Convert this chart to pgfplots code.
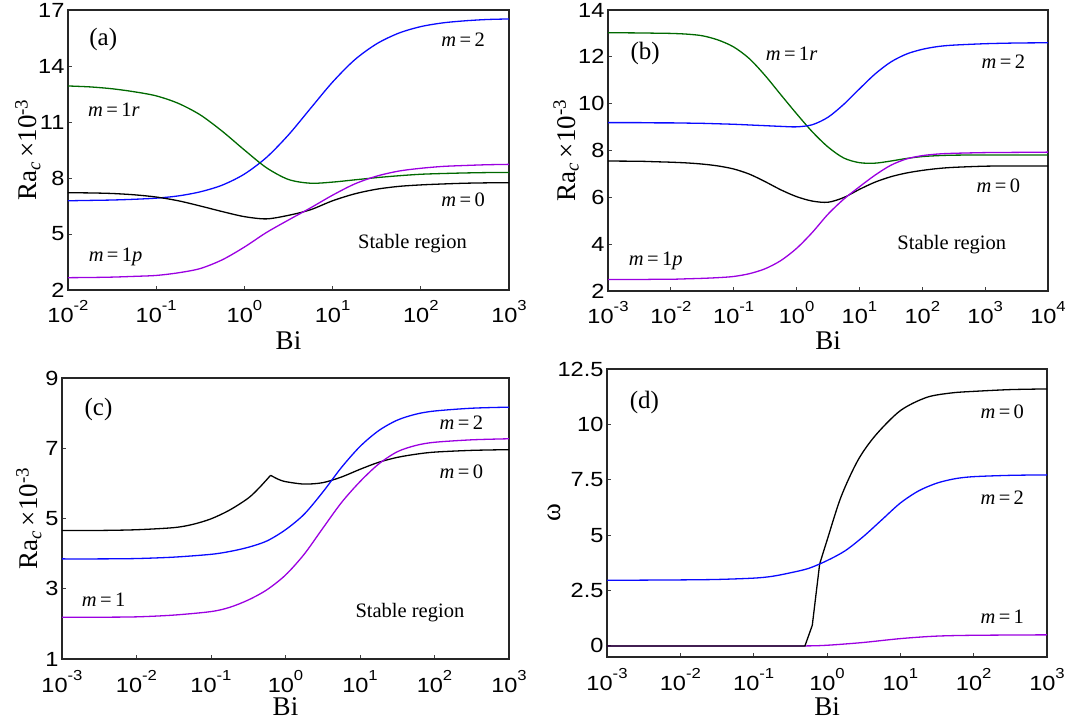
\documentclass[border=0pt]{standalone}
\usepackage{fontspec}
\setmainfont{Liberation Serif}
\newfontfamily\sansnum[FakeStretch=1.15]{Liberation Sans}
\usepackage{pgfplots}
\pgfplotsset{compat=1.18}

\definecolor{cblue}{RGB}{10,10,255}
\definecolor{cgreen}{RGB}{0,105,0}
\definecolor{cpurple}{RGB}{155,0,225}

\newcommand{\ml}[1]{\textit{m}\,=\,#1}
\newcommand{\racl}{Ra\textsubscript{\textit{c}}\,×10\textsuperscript{-3}}
% decade labels: 10 with a raised exponent
\newcommand{\dec}[1]{10\raisebox{12pt}{\fontsize{14.5}{14.5}\selectfont #1}}
\newcommand{\pl}[1]{{\fontsize{25}{25}\selectfont #1}}

% settings shared by all four panels
\pgfplotsset{
  scale only axis,
  axis line style={line width=1.2pt, black!85},
  tick align=inside, xtick pos=bottom, ytick pos=left,
  major tick length=4pt, xminorticks=false, yminorticks=false,
  tick style={line width=0.9pt, black!75},
  tick label style={font=\fontsize{20.5}{20.5}\selectfont\sansnum},
  xticklabel style={anchor=base, yshift=-33pt},
  /pgf/number format/assume math mode=true,
  label style={font=\fontsize{27}{27}\selectfont},
  every axis plot/.append style={line width=1.3pt, no markers, smooth},
}

\begin{document}
\begin{tikzpicture}[every node/.style={font=\fontsize{20.5}{20.5}\selectfont}]
\path[use as bounding box] (0,0) rectangle (1071pt,723pt);

% (a)
\begin{semilogxaxis}[anchor=south west, at={(68pt,433pt)}, width=441pt, height=280pt,
  xmin=1e-2, xmax=1e3, ymin=2, ymax=17,
  ytick={2,5,8,11,14,17},
  xtick={1e-2,1e-1,1,1e1,1e2,1e3},
  xticklabels={\dec{-2},\dec{-1},\dec{0},\dec{1},\dec{2},\dec{3}},
  xlabel={Bi}, ylabel={\racl},
  xlabel style={at={(axis description cs:0.5,-0.179)}, anchor=center},
  ylabel style={at={(axis description cs:-0.091,0.5)}, anchor=center},
]
\addplot[cblue] coordinates {(0.01,6.78) (0.01778,6.80) (0.03162,6.82) (0.05623,6.86) (0.1,6.92) (0.1778,7.04) (0.3162,7.26) (0.5623,7.62) (1,8.21) (1.778,9.10) (3.162,10.31) (5.623,11.73) (10,13.14) (17.78,14.33) (31.62,15.19) (56.23,15.76) (100,16.11) (177.8,16.31) (316.2,16.42) (562.3,16.49) (1000,16.52)};
\addplot[cgreen] coordinates {(0.01,12.93) (0.01778,12.88) (0.03162,12.78) (0.05623,12.62) (0.1,12.40) (0.1778,12.00) (0.3162,11.38) (0.5623,10.50) (1,9.50) (1.778,8.55) (3.162,7.92) (5.623,7.72) (10,7.78) (17.78,7.90) (31.62,8.02) (56.23,8.12) (100,8.20) (177.8,8.24) (316.2,8.27) (562.3,8.29) (1000,8.30)};
\addplot[black] coordinates {(0.01,7.21) (0.01778,7.20) (0.03162,7.17) (0.05623,7.10) (0.1,6.98) (0.1778,6.78) (0.3162,6.50) (0.5623,6.20) (1,5.93) (1.778,5.81) (3.162,6.00) (5.623,6.30) (10,6.78) (17.78,7.15) (31.62,7.40) (56.23,7.55) (100,7.63) (177.8,7.68) (316.2,7.72) (562.3,7.74) (1000,7.75)};
\addplot[cpurple] coordinates {(0.01,2.66) (0.01778,2.67) (0.03162,2.69) (0.05623,2.73) (0.1,2.78) (0.1778,2.92) (0.3162,3.15) (0.5623,3.62) (1,4.30) (1.778,5.08) (3.162,5.75) (5.623,6.40) (10,7.08) (17.78,7.68) (31.62,8.10) (56.23,8.37) (100,8.52) (177.8,8.62) (316.2,8.67) (562.3,8.71) (1000,8.73)};
\node at (axis cs:10^-1.6,15.4) {\pl{(a)}};
\node at (axis cs:10^2.48,15.43) {\ml{2}};
\node at (axis cs:10^-1.48,11.64) {\ml{1\textit{r}}};
\node at (axis cs:10^2.48,6.82) {\ml{0}};
\node at (axis cs:10^1.906,4.5) {Stable region};
\node at (axis cs:10^-1.46,3.79) {\ml{1\textit{p}}};
\end{semilogxaxis}

% (b)
\begin{semilogxaxis}[anchor=south west, at={(608pt,432pt)}, width=440pt, height=281pt,
  xmin=1e-3, xmax=1e4, ymin=2, ymax=14,
  ytick={2,4,6,8,10,12,14},
  xtick={1e-3,1e-2,1e-1,1,1e1,1e2,1e3,1e4},
  xticklabels={\dec{-3},\dec{-2},\dec{-1},\dec{0},\dec{1},\dec{2},\dec{3},\dec{4}},
  xlabel={Bi}, ylabel={\racl},
  xlabel style={at={(axis description cs:0.5,-0.178)}, anchor=center},
  ylabel style={at={(axis description cs:-0.095,0.5)}, anchor=center},
]
\addplot[cgreen] coordinates {(0.001,13.03) (0.003162,13.02) (0.005623,13.01) (0.01,13.00) (0.01778,12.97) (0.03162,12.90) (0.05623,12.72) (0.1,12.42) (0.1778,11.92) (0.3162,11.20) (0.5623,10.38) (1,9.57) (1.778,8.80) (3.162,8.15) (5.623,7.68) (10,7.48) (17.78,7.46) (31.62,7.55) (56.23,7.66) (100,7.74) (177.8,7.78) (316.2,7.80) (1000,7.81) (3162,7.81) (10000,7.81)};
\addplot[cblue] coordinates {(0.001,9.19) (0.003162,9.19) (0.005623,9.18) (0.01,9.18) (0.01778,9.17) (0.03162,9.16) (0.05623,9.14) (0.1,9.12) (0.1778,9.09) (0.3162,9.06) (0.5623,9.03) (1,9.01) (1.778,9.10) (3.162,9.42) (5.623,9.97) (10,10.63) (17.78,11.27) (31.62,11.78) (56.23,12.12) (100,12.32) (177.8,12.44) (316.2,12.50) (1000,12.56) (3162,12.59) (10000,12.60)};
\addplot[black] coordinates {(0.001,7.55) (0.003162,7.54) (0.005623,7.52) (0.01,7.50) (0.01778,7.47) (0.03162,7.42) (0.05623,7.34) (0.1,7.21) (0.1778,6.99) (0.3162,6.67) (0.5623,6.32) (1,6.03) (1.778,5.84) (3.162,5.79) (5.623,5.99) (10,6.34) (17.78,6.65) (31.62,6.88) (56.23,7.04) (100,7.15) (177.8,7.23) (316.2,7.28) (1000,7.33) (3162,7.34) (10000,7.34)};
\addplot[cpurple] coordinates {(0.001,2.49) (0.003162,2.49) (0.005623,2.50) (0.01,2.50) (0.01778,2.52) (0.03162,2.54) (0.05623,2.57) (0.1,2.62) (0.1778,2.74) (0.3162,2.95) (0.5623,3.30) (1,3.82) (1.778,4.50) (3.162,5.28) (5.623,5.92) (10,6.45) (17.78,6.95) (31.62,7.37) (56.23,7.64) (100,7.78) (177.8,7.85) (316.2,7.88) (1000,7.91) (3162,7.92) (10000,7.93)};
\node at (axis cs:10^-2.41,12.14) {\pl{(b)}};
\node at (axis cs:10^-0.08,12.14) {\ml{1\textit{r}}};
\node at (axis cs:10^3.29,11.79) {\ml{2}};
\node at (axis cs:10^3.21,6.5) {\ml{0}};
\node at (axis cs:10^2.47,4.0) {Stable region};
\node at (axis cs:10^-2.24,3.29) {\ml{1\textit{p}}};
\end{semilogxaxis}

% (c)
\begin{semilogxaxis}[anchor=south west, at={(62pt,64pt)}, width=447pt, height=281pt,
  xmin=1e-3, xmax=1e3, ymin=1, ymax=9,
  ytick={1,3,5,7,9},
  xtick={1e-3,1e-2,1e-1,1,1e1,1e2,1e3},
  xticklabels={\dec{-3},\dec{-2},\dec{-1},\dec{0},\dec{1},\dec{2},\dec{3}},
  xlabel={Bi}, ylabel={\racl},
  xlabel style={at={(axis description cs:0.5,-0.17)}, anchor=center},
  ylabel style={at={(axis description cs:-0.074,0.5)}, anchor=center},
]
\addplot[black] coordinates {(0.001,4.66) (0.003162,4.66) (0.01,4.68) (0.03162,4.74) (0.05623,4.83) (0.1,4.99) (0.1778,5.24) (0.3162,5.58) (0.4467,5.88) (0.631,6.23)};
\addplot[black] coordinates {(0.631,6.23) (0.7943,6.12) (1,6.05) (1.778,5.98) (3.162,6.02) (5.623,6.18) (10,6.40) (17.78,6.60) (31.62,6.74) (56.23,6.83) (100,6.89) (316.2,6.94) (1000,6.96)};
\addplot[cblue] coordinates {(0.001,3.85) (0.003162,3.85) (0.01,3.86) (0.03162,3.90) (0.1,3.98) (0.1778,4.06) (0.3162,4.18) (0.5623,4.36) (1,4.68) (1.778,5.12) (3.162,5.75) (5.623,6.45) (10,7.05) (17.78,7.50) (31.62,7.80) (56.23,7.97) (100,8.06) (316.2,8.14) (1000,8.17)};
\addplot[cpurple] coordinates {(0.001,2.19) (0.003162,2.19) (0.01,2.20) (0.03162,2.25) (0.1,2.35) (0.1778,2.47) (0.3162,2.68) (0.5623,2.97) (1,3.39) (1.778,3.98) (3.162,4.72) (5.623,5.45) (10,6.05) (17.78,6.55) (31.62,6.90) (56.23,7.08) (100,7.17) (316.2,7.24) (1000,7.27)};
\node at (axis cs:10^-2.51,8.1) {\pl{(c)}};
\node at (axis cs:10^2.36,7.72) {\ml{2}};
\node at (axis cs:10^2.36,6.34) {\ml{0}};
\node at (axis cs:10^1.67,2.33) {Stable region};
\node at (axis cs:10^-2.44,2.7) {\ml{1}};
\end{semilogxaxis}

% (d)
\begin{semilogxaxis}[anchor=south west, at={(607pt,66pt)}, width=440pt, height=288pt,
  xmin=1e-3, xmax=1e3, ymin=-0.5, ymax=12.5,
  ytick={0,2.5,5,7.5,10,12.5},
  yticklabels={0,2.5,5,7.5,10,12.5},
  xtick={1e-3,1e-2,1e-1,1,1e1,1e2,1e3},
  xticklabels={\dec{-3},\dec{-2},\dec{-1},\dec{0},\dec{1},\dec{2},\dec{3}},
  xlabel={Bi}, ylabel={ω},
  xlabel style={at={(axis description cs:0.5,-0.173)}, anchor=center},
  ylabel style={at={(axis description cs:-0.12,0.5)}, anchor=center},
]
\addplot[cpurple] coordinates {(0.001,0) (0.1,0) (0.5,0) (1,0.03) (3,0.15) (10,0.33) (30,0.44) (100,0.48) (1000,0.5)};
\addplot[black, sharp plot] coordinates {(0.001,0) (0.5,0) (0.63,0.93) (0.7943,3.7)};
\addplot[black] coordinates {(0.7943,3.7) (1,4.76) (1.55,6.72) (2.63,8.37) (4.57,9.5) (10,10.62) (22.9,11.22) (50,11.42) (100,11.49) (316.2,11.57) (1000,11.6)};
\addplot[cblue] coordinates {(0.001,2.96) (0.003162,2.97) (0.01,2.98) (0.03162,3.00) (0.1,3.06) (0.1778,3.14) (0.3162,3.30) (0.5623,3.50) (1,3.85) (1.778,4.30) (3.162,4.95) (5.623,5.70) (10,6.45) (17.78,7.00) (31.62,7.35) (56.23,7.55) (100,7.64) (316.2,7.70) (1000,7.72)};
\node at (axis cs:10^-2.49,11.0) {\pl{(d)}};
\node at (axis cs:10^2.39,10.59) {\ml{0}};
\node at (axis cs:10^2.39,6.69) {\ml{2}};
\node at (axis cs:10^2.39,1.31) {\ml{1}};
\end{semilogxaxis}
\end{tikzpicture}
\end{document}
